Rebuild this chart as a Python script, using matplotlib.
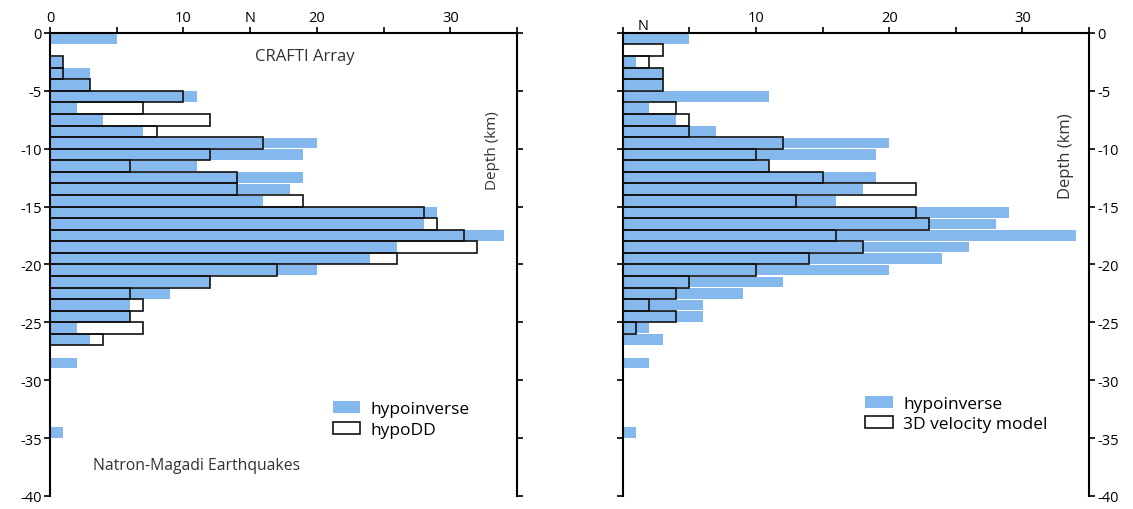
import numpy as np
import matplotlib
matplotlib.use('Agg')
import matplotlib.pyplot as plt
from matplotlib.patches import Patch

plt.rcParams['font.family'] = ['Open Sans', 'DejaVu Sans']
plt.rcParams['axes.unicode_minus'] = False

# event counts per 1 km depth bin, bin k spans -k .. -(k+1) km
hypoinverse = [5, 0, 1, 3, 3, 11, 2, 4, 7, 20,
               19, 11, 19, 18, 16, 29, 28, 34, 26, 24,
               20, 12, 9, 6, 6, 2, 3, 0, 2, 0,
               0, 0, 0, 0, 1, 0, 0, 0, 0, 0]
hypodd = [0, 0, 1, 1, 3, 10, 7, 12, 8, 16,
          12, 6, 14, 14, 19, 28, 29, 31, 32, 26,
          17, 12, 6, 7, 6, 7, 4, 0, 0, 0,
          0, 0, 0, 0, 0, 0, 0, 0, 0, 0]
velocity3d = [0, 3, 2, 3, 3, 0, 4, 5, 5, 12,
              10, 11, 15, 22, 13, 22, 23, 16, 18, 14,
              10, 5, 4, 2, 4, 1, 0, 0, 0, 0,
              0, 0, 0, 0, 0, 0, 0, 0, 0, 0]

depth_ticks = [0, -5, -10, -15, -20, -25, -30, -35, -40]
count_ticks = [0, 5, 10, 15, 20, 25, 30, 35]

BLUE = '#85b9ee'
centers = -(np.arange(len(hypoinverse)) + 0.5)


def draw_panel(ax, relocated, label):
    relocated = np.array(relocated)
    hypo = np.array(hypoinverse)
    m = relocated > 0
    # white boxes underneath, blue hypoinverse bars, then outlines on top
    ax.barh(centers[m], relocated[m], height=1.0, color='white', edgecolor='none', zorder=1)
    hm = hypo > 0
    ax.barh(centers[hm], hypo[hm], height=0.9, color=BLUE, edgecolor='none', zorder=2)
    ax.barh(centers[m], relocated[m], height=1.0, facecolor='none',
            edgecolor='#111111', linewidth=1.2, zorder=3)
    ax.set_xlim(0, 35)
    ax.set_ylim(-40, 0)
    ax.set_xticks(count_ticks)
    ax.set_yticks(depth_ticks)
    ax.xaxis.tick_top()
    ax.spines['bottom'].set_visible(False)
    for s in ['top', 'left', 'right']:
        ax.spines[s].set_linewidth(1.5)
    ax.tick_params(axis='both', direction='out', length=4, width=1.2,
                   labelsize=10.5, pad=2)
    ax.tick_params(axis='y', left=True, right=True)
    ax.tick_params(axis='x', top=True, bottom=False)
    handles = [Patch(facecolor=BLUE, edgecolor='none', label='hypoinverse'),
               Patch(facecolor='white', edgecolor='#111111', linewidth=1.2, label=label)]
    return handles


fig = plt.figure(figsize=(11.33, 5.10), dpi=100)
ax1 = fig.add_axes([0.0441, 0.0255, 0.4122, 0.908])
ax2 = fig.add_axes([0.5496, 0.0255, 0.4116, 0.908])

h1 = draw_panel(ax1, hypodd, 'hypoDD')
ax1.set_xticklabels(['0', '', '10', 'N', '20', '', '30', ''])
ax1.tick_params(axis='y', labelleft=True, labelright=False)
ax1.text(19.1, -2.0, 'CRAFTI Array', ha='center', va='center', fontsize=12, color='#333333')
ax1.text(11.0, -37.3, 'Natron-Magadi Earthquakes', ha='center', va='center',
         fontsize=11.3, color='#333333')
ax1.text(33.2, -10.1, 'Depth (km)', rotation=90, ha='center', va='center',
         fontsize=11, color='#333333')
ax1.legend(handles=h1, loc='upper left', bbox_to_anchor=(0.605, 0.205), frameon=False,
           fontsize=12.5, handlelength=1.6, handleheight=0.7, handletextpad=0.6,
           labelspacing=0.25, borderpad=0, borderaxespad=0)

h2 = draw_panel(ax2, velocity3d, '3D velocity model')
ax2.set_xticklabels(['', '', '10', '', '20', '', '30', ''])
ax2.tick_params(axis='y', labelleft=False, labelright=True)
ax2.text(1.5, 1.0, 'N', transform=ax2.get_xaxis_transform(), ha='center', va='bottom',
         fontsize=10.5)
ax2.text(33.3, -10.6, 'Depth (km)', rotation=90, ha='center', va='center',
         fontsize=12, color='#333333')
ax2.legend(handles=h2, loc='upper left', bbox_to_anchor=(0.52, 0.217), frameon=False,
           fontsize=12.5, handlelength=1.6, handleheight=0.7, handletextpad=0.6,
           labelspacing=0.25, borderpad=0, borderaxespad=0)

fig.savefig('out.png', dpi=100)
